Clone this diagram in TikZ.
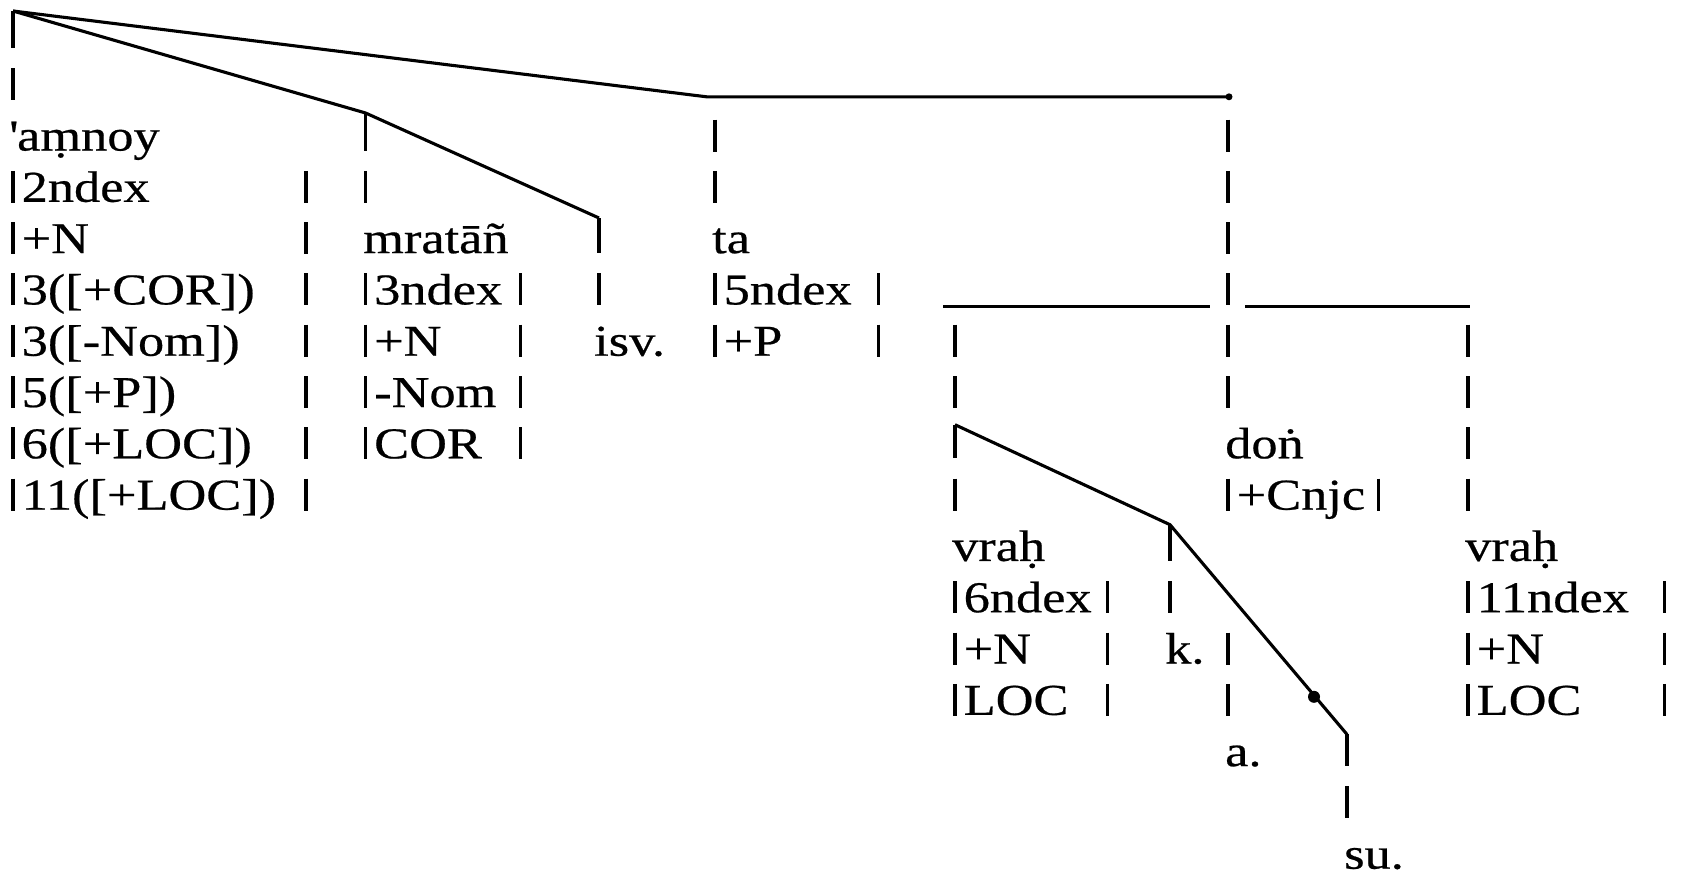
\documentclass[tikz,border=0pt]{standalone}
\usepackage{fontspec}
\setmainfont{Liberation Serif}[FakeStretch=1.19,FakeBold=0.5]
\newcommand\rb{150.5}
\newcommand\rs{51.3}
% bar in column #1 at row #2
\newcommand\vbarr[2]{\draw[barline] (#1,{\rb+\rs*(#2)-31}) -- (#1,{\rb+\rs*(#2)+1});}
% text node #1 at column x #2, row #3
\newcommand\rtext[4]{\node[txt] (#1) at (#2,{\rb+\rs*(#3)}) {#4};}
\begin{document}
\begin{tikzpicture}[x=1pt,y=-1pt,
  txt/.style={anchor=base west,inner sep=0pt,font=\fontsize{44}{44}\selectfont},
  barline/.style={line width=3.4pt},
  treeline/.style={line width=3.1pt,line join=miter}]
\useasboundingbox (0,0) rectangle (1686,878);
% ---------- coordinates of tree points
\coordinate (root) at (13,11);
\coordinate (mb) at (365.6,113);
\coordinate (ib) at (599,218);
\coordinate (tb) at (706.5,96.8);
\coordinate (te) at (1229,96.8);
\coordinate (cl1) at (943,306.5);
\coordinate (cl2) at (1210,306.5);
\coordinate (cr1) at (1245,306.5);
\coordinate (cr2) at (1470,306.5);
\coordinate (vb) at (955,424.7);
\coordinate (kb) at (1170,524.7);
\coordinate (sb) at (1347,734.4);
\coordinate (blob) at (1314,696.8);
% ---------- tree lines
\draw[treeline] (root) -- (mb) -- (ib);
\draw[treeline] (root) -- (tb) -- (te);
\fill (te) circle (3.5);
\draw[treeline] (cl1) -- (cl2);
\draw[treeline] (cr1) -- (cr2);
\draw[treeline] (vb) -- (kb) -- (sb);
\fill (blob) circle (6);
% ---------- extended bars from tree points
\draw[barline] (root) -- (13,{\rb-2*\rs});
\draw[barline] (mb) -- (365.6,\rb);
\draw[barline] (ib) -- (599,{\rb+2*\rs});
\draw[barline] (vb) -- (955,{\rb+6*\rs});
\draw[barline] (kb) -- (1170,{\rb+8*\rs});
\draw[barline] (sb) -- (1347,{\rb+12*\rs});
% ---------- column A
\vbarr{13}{-1}
\foreach \k in {1,...,7} {\vbarr{13}{\k}\vbarr{306}{\k}}
\rtext{amnoy}{9}{0}{\textquotesingle a\d{m}noy}
\rtext{a1}{21.5}{1}{2ndex}
\rtext{a2}{21.5}{2}{+N}
\rtext{a3}{21.5}{3}{3([+COR])}
\rtext{a4}{21.5}{4}{3([-Nom])}
\rtext{a5}{21.5}{5}{5([+P])}
\rtext{a6}{21.5}{6}{6([+LOC])}
\rtext{a7}{21.5}{7}{11([+LOC])}
% ---------- column M
\vbarr{365.6}{1}
\foreach \k in {3,...,6} {\vbarr{365.6}{\k}\vbarr{520.4}{\k}}
\rtext{mratan}{363}{2}{mrat\={a}\~{n}}
\rtext{m1}{374}{3}{3ndex}
\rtext{m2}{374}{4}{+N}
\rtext{m3}{374}{5}{-Nom}
\rtext{m4}{374}{6}{COR}
% ---------- column I
\vbarr{599}{3}
\rtext{isv}{594}{4}{isv.}
% ---------- column T
\foreach \k in {0,1} {\vbarr{715}{\k}}
\foreach \k in {3,4} {\vbarr{715}{\k}\vbarr{878.5}{\k}}
\rtext{ta}{712}{2}{ta}
\rtext{t1}{723.5}{3}{5ndex}
\rtext{t2}{723.5}{4}{+P}
% ---------- column D
\foreach \k in {0,...,5} {\vbarr{1228}{\k}}
\foreach \k in {7,10,11} {\vbarr{1228}{\k}}
\vbarr{1378.5}{7}
\rtext{don}{1225}{6}{do\.{n}}
\rtext{d1}{1236.5}{7}{+Cnjc}
\rtext{a}{1225}{12}{a.}
% ---------- column V1
\foreach \k in {4,5,7} {\vbarr{955}{\k}}
\foreach \k in {9,10,11} {\vbarr{955}{\k}\vbarr{1107.6}{\k}}
\rtext{vrah}{952}{8}{vra\d{h}}
\rtext{v1}{963.5}{9}{6ndex}
\rtext{v2}{963.5}{10}{+N}
\rtext{v3}{963.5}{11}{LOC}
% ---------- column K
\vbarr{1170}{9}
\rtext{k}{1165}{10}{k.}
% ---------- column S
\vbarr{1347}{13}
\rtext{su}{1344}{14}{su.}
% ---------- column V2
\foreach \k in {4,5,6,7} {\vbarr{1468}{\k}}
\foreach \k in {9,10,11} {\vbarr{1468}{\k}\vbarr{1664.6}{\k}}
\rtext{vrahb}{1465}{8}{vra\d{h}}
\rtext{w1}{1476.5}{9}{11ndex}
\rtext{w2}{1476.5}{10}{+N}
\rtext{w3}{1476.5}{11}{LOC}
\end{tikzpicture}
\end{document}
